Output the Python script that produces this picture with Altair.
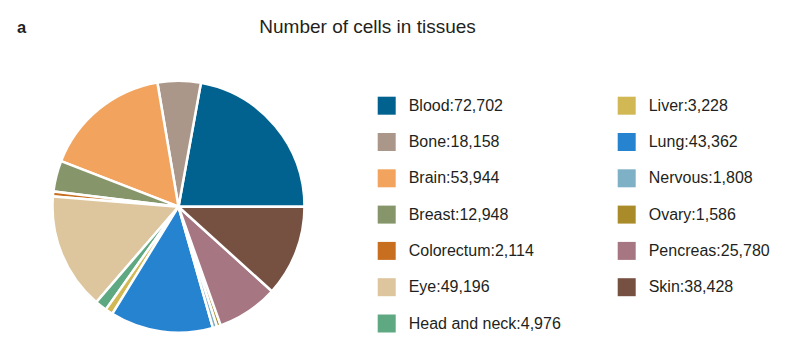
import math
import altair as alt
import pandas as pd

tissues = ["Blood", "Bone", "Brain", "Breast", "Colorectum", "Eye", "Head and neck",
           "Liver", "Lung", "Nervous", "Ovary", "Pencreas", "Skin"]
cells = [72702, 18158, 53944, 12948, 2114, 49196, 4976,
         3228, 43362, 1808, 1586, 25780, 38428]
colors = ["#01628f", "#ab978a", "#f2a45e", "#86966a", "#c86f1f", "#ddc59e", "#5ea882",
          "#d2b854", "#2683d0", "#7fb1c6", "#a98b2a", "#a67683", "#765142"]
title_text = "Number of cells in tissues"
panel_tag = "a"

labels = [f"{t}:{v:,}" for t, v in zip(tissues, cells)]
df = pd.DataFrame({"tissue": tissues, "cells": cells, "idx": list(range(len(tissues))), "label": labels})

FONT = "Liberation Sans"
TXT = "#231f20"

pie = alt.Chart(df).mark_arc(outerRadius=126, stroke="white", strokeWidth=2.5).encode(
    theta=alt.Theta("cells:Q", stack=True,
                    scale=alt.Scale(range=[math.pi / 2, math.pi / 2 + 2 * math.pi])),
    order=alt.Order("idx:Q", sort="descending"),
    color=alt.Color("label:N",
                    scale=alt.Scale(domain=labels, range=colors),
                    legend=alt.Legend(title=None, orient="none", legendX=369.7, legendY=40.7,
                                      columns=2, symbolType="square", symbolSize=324,
                                      symbolStrokeWidth=0, labelFontSize=16, labelFont=FONT,
                                      labelColor=TXT, labelOffset=13, rowPadding=18.3,
                                      columnPadding=56, padding=0, labelLimit=400)),
    x=alt.value(170.5),
    y=alt.value(150.7),
)

texts = pd.DataFrame({"t": [panel_tag, title_text], "w": ["bold", "normal"]})

tag = alt.Chart(pd.DataFrame({"t": [panel_tag]})).mark_text(
    font=FONT, fontSize=16.5, fontWeight="bold", color=TXT, align="left", baseline="alphabetic"
).encode(text="t:N", x=alt.value(9), y=alt.value(-23.3))

ttl = alt.Chart(pd.DataFrame({"t": [title_text]})).mark_text(
    font=FONT, fontSize=19, fontWeight="normal", color=TXT, align="left", baseline="alphabetic"
).encode(text="t:N", x=alt.value(251.3), y=alt.value(-23.3))

chart = alt.layer(pie, tag, ttl).properties(
    width=788, height=300,
    autosize="none",
    padding={"left": 0, "top": 48, "right": 0, "bottom": 0},
).configure_view(stroke=None)

chart.save("out.html", embed_options={"renderer": "svg", "actions": False})
